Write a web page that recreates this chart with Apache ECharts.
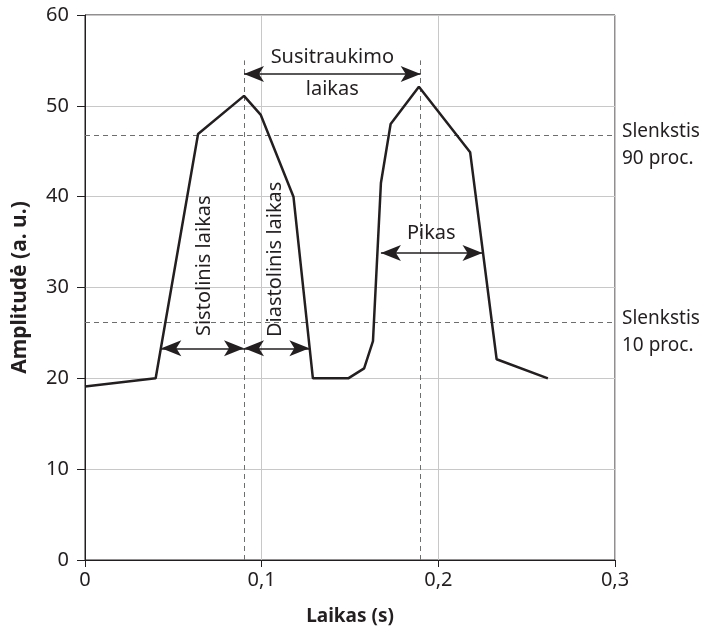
<!DOCTYPE html>
<html><head><meta charset="utf-8">
<script src="https://cdn.jsdelivr.net/npm/echarts@6/dist/echarts.min.js"></script>
<style>html,body{margin:0;padding:0;background:#fff}#c{width:711px;height:632px}</style>
</head><body><div id="c"></div>
<script>
// signal
const timeS = [0, 0.04, 0.064, 0.09, 0.0995, 0.118, 0.129, 0.149, 0.158, 0.163, 0.1675, 0.173, 0.189, 0.218, 0.233, 0.262];
const amplitude = [19.1, 20, 46.9, 51.1, 49, 40, 20, 20, 21.1, 24.1, 41.5, 48, 52.1, 44.9, 22.1, 20];
// thresholds
const thresholdValues = [46.8, 26.2];
const thresholdLabels = ['Slenkstis\n90 proc.', 'Slenkstis\n10 proc.'];
// vertical markers at peaks
const peakTimes = [0.09, 0.19];
const peakMarkerTop = 55;
// arrows: [x1, x2, y]
const arrowStart = [0.09, 0.0432, 0.09, 0.1675];
const arrowEnd = [0.19, 0.09, 0.127, 0.225];
const arrowY = [53.5, 23.3, 23.3, 33.8];
// annotation texts
const noteTexts = ['Susitraukimo', 'laikas', 'Pikas', 'Sistolinis laikas', 'Diastolinis laikas'];
const noteX = [0.14, 0.14, 0.196, 0.0678, 0.1075];
const noteY = [55.3, 51.85, 36.0, 32.4, 33.1];
const noteRotate = [0, 0, 0, 90, 90];
// axis ticks
const xTicks = [0, 0.1, 0.2, 0.3];
const yTicks = [0, 10, 20, 30, 40, 50, 60];

const FONT = 'Noto Sans';
const TXT = '#231f20';
const chart = echarts.init(document.getElementById('c'));

const arrowData = arrowStart.map((s, i) => [
  {coord: [s, arrowY[i]]}, {coord: [arrowEnd[i], arrowY[i]]}
]);
const threshData = thresholdValues.map(v => [{coord: [0, v]}, {coord: [0.3, v]}]);
const peakData = peakTimes.map(t => [{coord: [t, 0]}, {coord: [t, peakMarkerTop]}]);

chart.setOption({
  animation: false,
  grid: {left: 85, right: 96, top: 15, bottom: 72, show: true, borderColor: TXT, borderWidth: 1,
    containLabel: false, outerBoundsMode: 'none'},
  xAxis: {
    type: 'value', min: xTicks[0], max: xTicks[xTicks.length - 1], interval: 0.1,
    name: 'Laikas (s)', nameLocation: 'middle', nameGap: 47,
    nameTextStyle: {fontFamily: FONT, fontSize: 19, fontWeight: 'bold', color: TXT},
    axisLine: {lineStyle: {color: TXT}},
    axisTick: {length: 7, lineStyle: {color: TXT}},
    axisLabel: {fontFamily: FONT, fontSize: 20, color: TXT, margin: 10,
      formatter: v => String(Math.round(v * 10) / 10).replace('.', ',')},
    splitLine: {show: true, lineStyle: {color: '#c8c8c8', width: 1}}
  },
  yAxis: {
    type: 'value', min: yTicks[0], max: yTicks[yTicks.length - 1], interval: 10,
    name: 'Amplitudė (a. u.)', nameLocation: 'middle', nameGap: 54,
    nameTextStyle: {fontFamily: FONT, fontSize: 21, fontWeight: 'bold', color: TXT},
    axisLine: {show: true, lineStyle: {color: TXT}},
    axisTick: {show: true, length: 8, lineStyle: {color: TXT}},
    axisLabel: {fontFamily: FONT, fontSize: 20, color: TXT, margin: 16},
    splitLine: {show: true, lineStyle: {color: '#c8c8c8', width: 1}}
  },
  series: [
    {
      type: 'line', data: timeS.map((t, i) => [t, amplitude[i]]),
      symbol: 'none', lineStyle: {color: TXT, width: 2.5}, z: 5,
      markLine: {
        silent: true, symbol: ['none', 'none'], animation: false,
        lineStyle: {color: '#6d6e70', type: [5, 4], width: 1},
        label: {show: false},
        data: threshData.concat(peakData)
      }
    },
    {
      type: 'line', data: [], symbol: 'none',
      markLine: {
        silent: true, symbol: ['arrow', 'arrow'], symbolSize: [12, 20], animation: false,
        lineStyle: {color: TXT, type: 'solid', width: 1.5},
        label: {show: false},
        data: arrowData
      }
    },
    {
      type: 'scatter', symbolSize: 0, z: 6, itemStyle: {opacity: 1, color: TXT},
      data: noteTexts.map((t, i) => ({value: [noteX[i], noteY[i]], name: t,
        label: {rotate: noteRotate[i]}})),
      label: {show: true, position: 'inside', formatter: p => p.name,
        fontFamily: FONT, fontSize: 20, color: TXT, opacity: 1}
    },
    {
      type: 'scatter', symbolSize: 0, z: 6, clip: false, itemStyle: {opacity: 1, color: TXT},
      data: thresholdValues.map((v, i) => ({value: [0.3, v], name: thresholdLabels[i]})),
      label: {show: true, position: 'right', distance: 7, offset: [0, 10], align: 'left',
        formatter: p => p.name, fontFamily: FONT, fontSize: 19, lineHeight: 27, color: TXT, opacity: 1}
    }
  ]
});
</script></body></html>
